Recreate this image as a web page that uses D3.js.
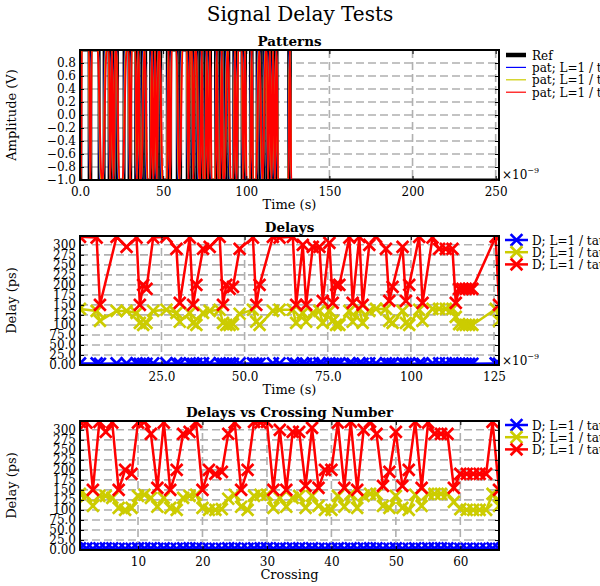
<!DOCTYPE html>
<html>
<head>
<meta charset="utf-8">
<script src="https://cdn.jsdelivr.net/npm/d3@7"></script>
<style>
  body { margin: 0; background: #fff; }
  text { font-family: "DejaVu Serif", serif; fill: #000; }
</style>
</head>
<body>
<div id="chart"></div>
<script>
// crossing times of the reference pattern (ns)
let crossTimes = [0.5, 5.5, 6.5, 11.5, 14.5, 17.5, 18.5, 19.5, 20.5, 22.5,
  26.5, 29.5, 30.5, 33.5, 34.5, 35.5, 37.5, 39.5, 42.5, 43.5,
  44.5, 45.5, 46.5, 48.5, 52.5, 53.5, 54.5, 58.5, 60.5, 64.5,
  65.5, 67.5, 68.5, 70.5, 72.5, 73.5, 75.5, 76.5, 77.5, 78.5,
  81.5, 82.5, 84.5, 85.5, 87.5, 89.5, 92.5, 93.5, 94.5, 97.5,
  98.5, 99.5, 102.5, 103.5, 106.5, 108.5, 110.5, 112.5, 113.5, 114.5,
  115.5, 116.5, 117.5, 118.5, 125.5, 126.5];

// measured delays per crossing (ps)
let delayBlue = [4, 4, 3, 4, 4, 4, 3, 3, 3, 4,
  4, 4, 3, 4, 3, 3, 4, 4, 4, 3,
  3, 3, 3, 4, 4, 3, 3, 4, 4, 4,
  3, 4, 3, 4, 4, 3, 4, 3, 3, 3,
  4, 3, 4, 3, 4, 4, 4, 3, 3, 4,
  3, 3, 4, 3, 4, 4, 4, 4, 3, 3,
  3, 3, 3, 3, 4, 3];
let delayYellow = [140, 135, 110, 135, 135, 130, 105, 100, 105, 135,
  138, 130, 108, 130, 105, 100, 130, 135, 138, 105,
  100, 100, 102, 128, 138, 108, 100, 135, 138, 138,
  105, 130, 108, 130, 135, 105, 135, 110, 100, 100,
  135, 108, 140, 105, 135, 140, 140, 110, 105, 135,
  105, 100, 138, 110, 140, 140, 140, 140, 120, 102,
  100, 100, 100, 100, 140, 110];
let delayRed = [320, 318, 150, 320, 295, 318, 150, 200, 190, 318,
  320, 290, 155, 318, 150, 200, 290, 295, 320, 150,
  200, 190, 195, 290, 318, 150, 200, 320, 318, 320,
  150, 300, 150, 295, 295, 160, 305, 155, 200, 200,
  318, 155, 320, 150, 300, 320, 290, 160, 195, 295,
  160, 200, 320, 155, 318, 290, 290, 290, 155, 190,
  190, 190, 190, 190, 320, 150];
let crossNumber = crossTimes.map((d, i) => i + 1);

// axis ticks
let patTimeTicks = [0, 50, 100, 150, 200, 250];
let patTimeLabels = ["0.0", "50", "100", "150", "200", "250"];
let ampTicks = [-1.0, -0.8, -0.6, -0.4, -0.2, 0.0, 0.2, 0.4, 0.6, 0.8];
let ampLabels = ["\u22121.0", "\u22120.8", "\u22120.6", "\u22120.4", "\u22120.2", "0.0", "0.2", "0.4", "0.6", "0.8"];
let delayTimeTicks = [25, 50, 75, 100, 125];
let delayTimeLabels = ["25.0", "50.0", "75.0", "100", "125"];
let delayTicks = [0, 25, 50, 75, 100, 125, 150, 175, 200, 225, 250, 275, 300];
let delayLabels = ["0.00", "25.0", "50.0", "75.0", "100", "125", "150", "175", "200", "225", "250", "275", "300"];
let crossTicks = [10, 20, 30, 40, 50, 60];

let svgWidth = 600;
let svgHeight = 586;
let left = 80, right = 499;
let patternStop = 252;

let svg = d3.select("#chart")
  .append("svg")
  .attr("width", svgWidth)
  .attr("height", svgHeight);

// series styles
let series = [
  {name: "D; L=1 / tau=10ps", label: "pat; L=1 / tau=10ps", color: "#0000ff", delays: delayBlue, rise: 0.5},
  {name: "D; L=1 / tau=50ps", label: "pat; L=1 / tau=50ps", color: "#cccc00", delays: delayYellow, rise: 1.2},
  {name: "D; L=1 / tau=100ps", label: "pat; L=1 / tau=100ps", color: "#ff0000", delays: delayRed, rise: 2.4}
];

let clipCount = 0;

function makePanel(top, bottom, xDomain, yDomain, xTicks, xLabels, yTicks, yLabels, title, xTitle, yTitle) {
  let x = d3.scaleLinear().domain(xDomain).range([left, right]);
  let y = d3.scaleLinear().domain(yDomain).range([bottom, top]);
  let g = svg.append("g");

  // grid
  let grid = g.append("g")
    .attr("stroke", "#b0b0b0")
    .attr("stroke-width", 1.6)
    .attr("stroke-dasharray", "8,4");
  grid.selectAll(".vg").data(xTicks).enter().append("line")
    .attr("x1", d => x(d)).attr("x2", d => x(d))
    .attr("y1", top).attr("y2", bottom);
  grid.selectAll(".hg").data(yTicks).enter().append("line")
    .attr("x1", left).attr("x2", right)
    .attr("y1", d => y(d)).attr("y2", d => y(d));

  let id = "clip" + (clipCount++);
  svg.append("clipPath").attr("id", id)
    .append("rect")
    .attr("x", left).attr("y", top)
    .attr("width", right - left).attr("height", bottom - top);
  let plot = g.append("g").attr("clip-path", `url(#${id})`);

  // axes (ticks pointing inwards, on all four sides)
  let bottomAxis = d3.axisBottom(x).tickValues(xTicks)
    .tickFormat((d, i) => xLabels[i]).tickSizeInner(-4).tickSizeOuter(0).tickPadding(7);
  let leftAxis = d3.axisLeft(y).tickValues(yTicks)
    .tickFormat((d, i) => yLabels[i]).tickSizeInner(-4).tickSizeOuter(0).tickPadding(4);
  let topAxis = d3.axisTop(x).tickValues(xTicks).tickFormat("").tickSizeInner(-4).tickSizeOuter(0);
  let rightAxis = d3.axisRight(y).tickValues(yTicks).tickFormat("").tickSizeInner(-4).tickSizeOuter(0);

  let axes = [
    [bottomAxis, `translate(0, ${bottom})`],
    [leftAxis, `translate(${left}, 0)`],
    [topAxis, `translate(0, ${top})`],
    [rightAxis, `translate(${right}, 0)`]
  ];
  let axisLayer = svg.append("g");
  axes.forEach(a => {
    let ag = axisLayer.append("g").attr("transform", a[1]).call(a[0]);
    ag.select(".domain").remove();
    ag.selectAll("line").attr("stroke", "#000").attr("stroke-width", 1);
    ag.selectAll("text")
      .attr("font-family", "DejaVu Serif")
      .attr("font-size", 12)
      .attr("fill", "#000");
  });

  axisLayer.append("rect")
    .attr("x", left).attr("y", top)
    .attr("width", right - left).attr("height", bottom - top)
    .attr("fill", "none").attr("stroke", "#000").attr("stroke-width", 2);

  svg.append("text")
    .attr("x", (left + right) / 2).attr("y", top - 4)
    .attr("text-anchor", "middle")
    .attr("font-size", 13.5).attr("font-weight", "bold")
    .text(title);

  svg.append("text")
    .attr("x", (left + right) / 2).attr("y", bottom + 29)
    .attr("text-anchor", "middle")
    .attr("font-size", 13)
    .text(xTitle);

  svg.append("text")
    .attr("transform", `translate(16, ${(top + bottom) / 2}) rotate(-90)`)
    .attr("text-anchor", "middle")
    .attr("font-size", 13)
    .text(yTitle);

  return {x: x, y: y, plot: plot, top: top, bottom: bottom};
}

function offsetText(bottom) {
  let t = svg.append("text")
    .attr("x", right + 3).attr("y", bottom)
    .attr("font-size", 12);
  t.append("tspan").text("\u00d710");
  t.append("tspan").attr("font-size", 8).attr("dy", -6).text("\u22129");
}

// ---------- Patterns ----------
let p1 = makePanel(50, 180, [0, patternStop], [-1, 1], patTimeTicks, patTimeLabels,
  ampTicks, ampLabels, "Patterns", "Time (s)", "Amplitude (V)");
offsetText(179);

function refPoints() {
  let pts = [[0, -1]];
  let lvl = -1;
  crossTimes.forEach(t => {
    pts.push([t, lvl]);
    lvl = -lvl;
    pts.push([t, lvl]);
  });
  pts.push([patternStop, lvl]);
  return pts;
}

function patPoints(delays, rise) {
  let pts = [[0, -1]];
  let lvl = -1;
  let n = crossTimes.length;
  crossTimes.forEach((t, i) => {
    let c = t + delays[i] / 1000;
    let prevGap = i ? t - crossTimes[i - 1] : t;
    let nextGap = i < n - 1 ? crossTimes[i + 1] - t : 10;
    let h = Math.min(rise / 2, prevGap * 0.4, nextGap * 0.4);
    pts.push([c - h, lvl]);
    lvl = -lvl;
    pts.push([c + h, lvl]);
  });
  pts.push([patternStop, lvl]);
  return pts;
}

let refLine = d3.line().x(d => p1.x(d[0])).y(d => p1.y(d[1]));
let patLine = d3.line().x(d => p1.x(d[0])).y(d => p1.y(d[1])).curve(d3.curveMonotoneX);

p1.plot.append("path")
  .attr("d", refLine(refPoints()))
  .attr("fill", "none").attr("stroke", "#000").attr("stroke-width", 3);

series.forEach(s => {
  p1.plot.append("path")
    .attr("d", patLine(patPoints(s.delays, s.rise)))
    .attr("fill", "none").attr("stroke", s.color).attr("stroke-width", 2);
});

// legend for patterns
let leg1 = svg.append("g").attr("transform", "translate(505, 55)");
leg1.append("line").attr("x1", 1).attr("x2", 21).attr("y1", 0).attr("y2", 0)
  .attr("stroke", "#000").attr("stroke-width", 4.5);
leg1.append("text").attr("x", 27).attr("y", 4.5).attr("font-size", 12).text("Ref");
series.forEach((s, i) => {
  let yy = 12.4 * (i + 1);
  leg1.append("line").attr("x1", 1).attr("x2", 21).attr("y1", yy).attr("y2", yy)
    .attr("stroke", s.color).attr("stroke-width", 1.2);
  leg1.append("text").attr("x", 27).attr("y", yy + 4.5).attr("font-size", 12).text(s.label);
});

// ---------- delay panels ----------
let marker = d3.symbol(d3.symbolTimes).size(92);

function drawDelays(panel, xs) {
  series.forEach(s => {
    let pts = xs.map((xv, i) => [xv, s.delays[i]]);
    panel.plot.append("path")
      .attr("d", d3.line().x(d => panel.x(d[0])).y(d => panel.y(d[1]))(pts))
      .attr("fill", "none").attr("stroke", s.color).attr("stroke-width", 2.5);
    panel.plot.selectAll(null).data(pts).enter().append("path")
      .attr("d", marker)
      .attr("transform", d => `translate(${panel.x(d[0])}, ${panel.y(d[1])})`)
      .attr("fill", "none").attr("stroke", s.color).attr("stroke-width", 2.7);
  });
}

function delayLegend(top) {
  let lg = svg.append("g").attr("transform", `translate(505, ${top + 4})`);
  series.forEach((s, i) => {
    let yy = 12.2 * i;
    lg.append("line").attr("x1", 0).attr("x2", 23).attr("y1", yy).attr("y2", yy)
      .attr("stroke", s.color).attr("stroke-width", 2.5);
    lg.append("path").attr("d", marker)
      .attr("transform", `translate(11.5, ${yy})`)
      .attr("fill", "none").attr("stroke", s.color).attr("stroke-width", 2.7);
    lg.append("text").attr("x", 27).attr("y", yy + 4.5).attr("font-size", 12).text(s.name);
  });
}

let yDelayMax = 322;

let p2 = makePanel(236, 365, [0.5, 126.5], [0, yDelayMax], delayTimeTicks, delayTimeLabels,
  delayTicks, delayLabels, "Delays", "Time (s)", "Delay (ps)");
drawDelays(p2, crossTimes);
offsetText(365);
delayLegend(236);

let p3 = makePanel(421, 550, [1, 66], [0, yDelayMax], crossTicks, crossTicks.map(String),
  delayTicks, delayLabels, "Delays vs Crossing Number", "Crossing", "Delay (ps)");
drawDelays(p3, crossNumber);
delayLegend(421);

// main title
svg.append("text")
  .attr("x", 300).attr("y", 21)
  .attr("text-anchor", "middle")
  .attr("font-size", 20)
  .text("Signal Delay Tests");
</script>
</body>
</html>
